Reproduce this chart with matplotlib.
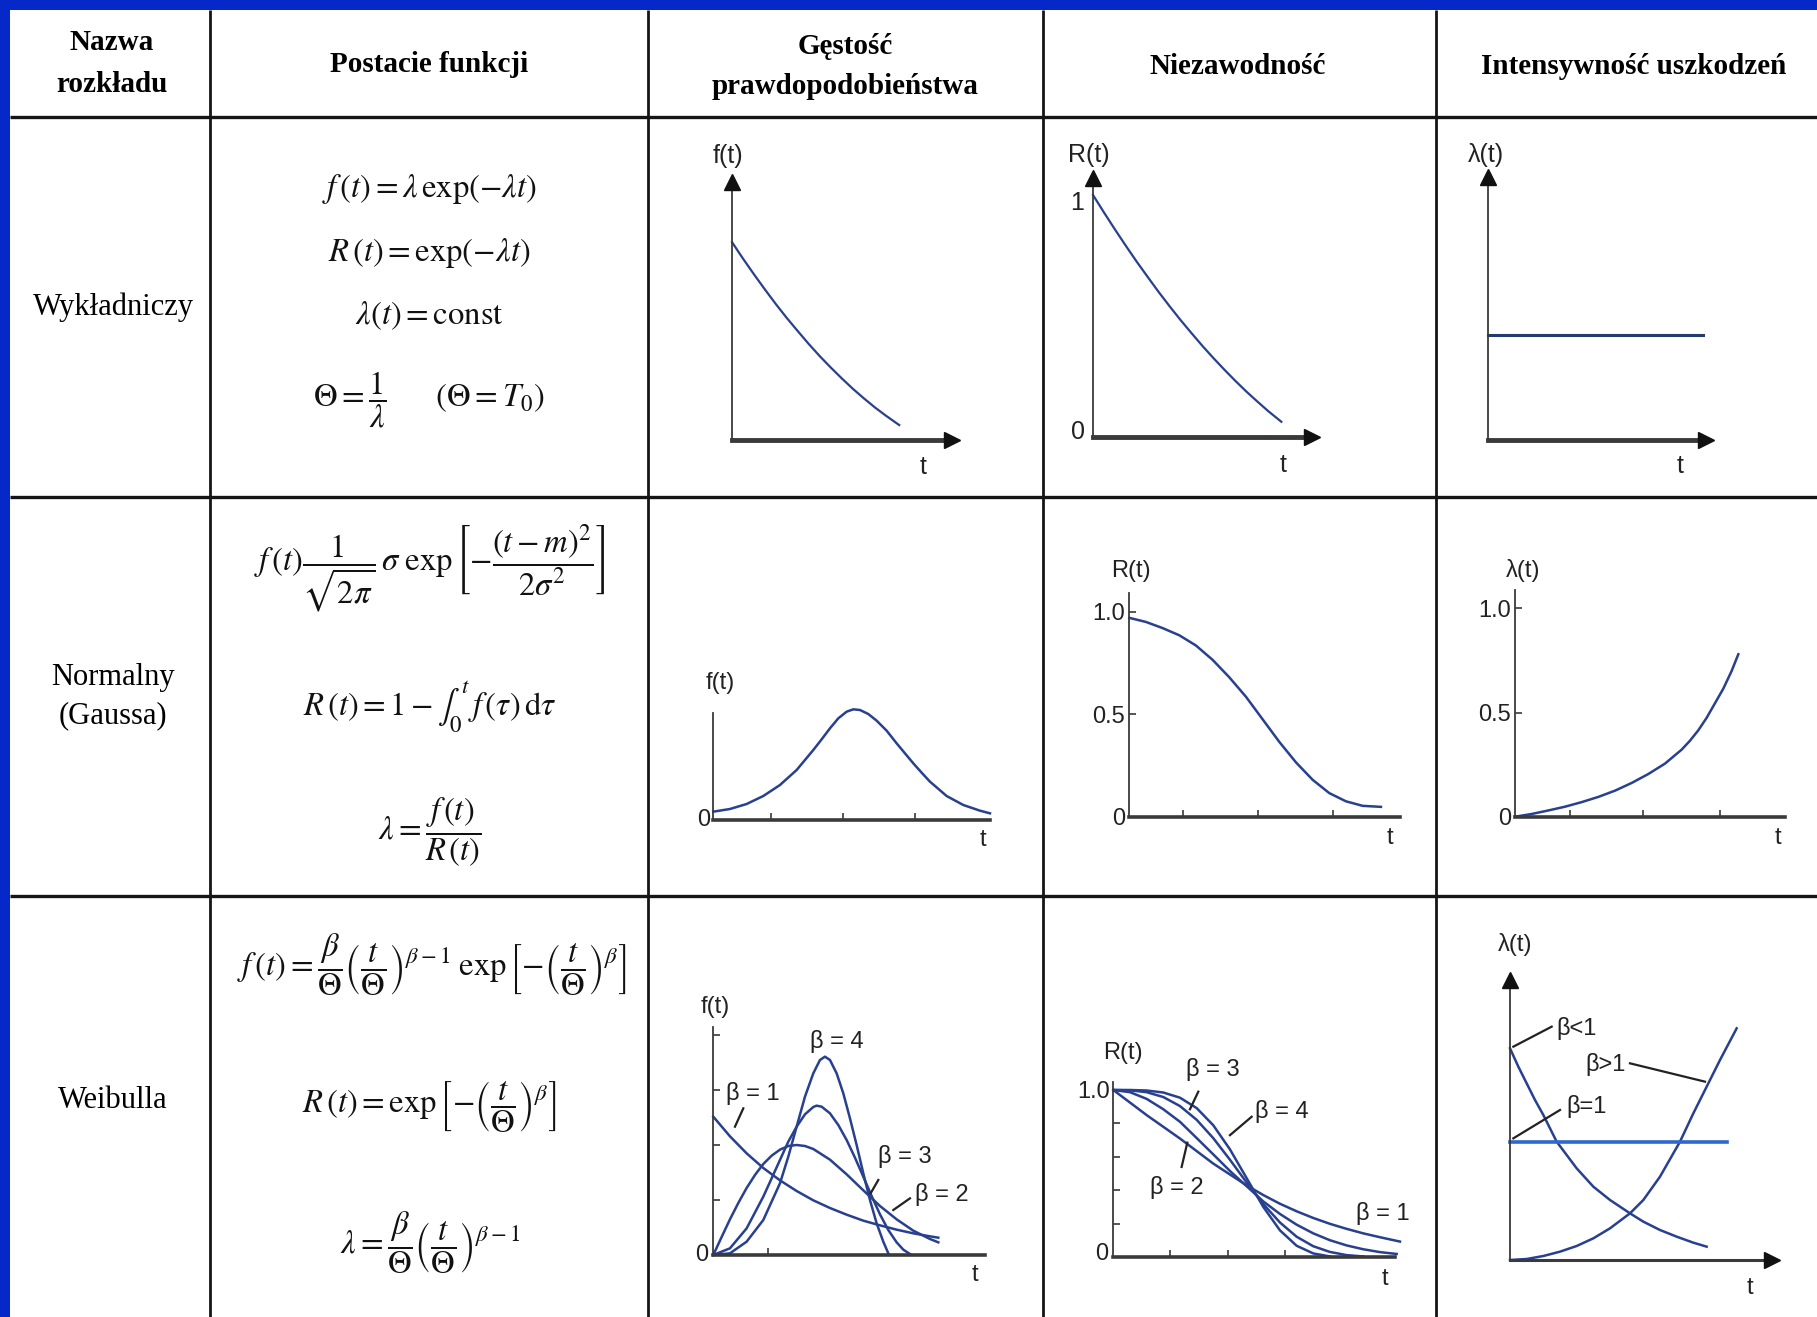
import matplotlib
matplotlib.use("Agg")
import matplotlib.pyplot as plt
from matplotlib.patches import Rectangle

plt.rcParams['mathtext.fontset'] = 'stix'

# ---------------- data ----------------
headers = ["Nazwa\nrozkładu", "Postacie funkcji", "Gęstość\nprawdopodobieństwa",
           "Niezawodność", "Intensywność uszkodzeń"]
row_names = ["Wykładniczy", "Normalny\n(Gaussa)", "Weibulla"]

# Row 1: exponential
exp_f_t = [0, 0.05, 0.1, 0.15, 0.2, 0.25, 0.3, 0.35, 0.4, 0.45, 0.5, 0.55, 0.6, 0.65, 0.7, 0.76]
exp_f_v = [0.767, 0.703, 0.642, 0.583, 0.526, 0.472, 0.421, 0.371, 0.324, 0.280, 0.238,
           0.198, 0.161, 0.126, 0.094, 0.058]
exp_R_t = [0, 0.05, 0.1, 0.15, 0.2, 0.25, 0.3, 0.35, 0.4, 0.45, 0.5, 0.55, 0.6, 0.65, 0.7,
           0.75, 0.8, 0.86]
exp_R_v = [1.0, 0.928, 0.858, 0.790, 0.724, 0.661, 0.599, 0.540, 0.483, 0.429, 0.376,
           0.326, 0.278, 0.232, 0.188, 0.147, 0.107, 0.063]
exp_lam_t = [0, 0.985]
exp_lam_v = [0.40, 0.40]

# Row 2: normal
norm_f_t = [0, 0.5, 1, 1.5, 2, 2.5, 2.75, 3, 3.25, 3.5, 3.75, 4.0, 4.2, 4.4, 4.65, 4.9,
            5.2, 5.5, 5.75, 6, 6.25, 6.5, 7, 7.5, 8, 8.3]
norm_f_v = [0.25, 0.33, 0.48, 0.72, 1.05, 1.5, 1.8, 2.1, 2.42, 2.75, 3.05, 3.25, 3.32,
            3.3, 3.18, 2.98, 2.68, 2.3, 2.0, 1.7, 1.42, 1.15, 0.72, 0.45, 0.28, 0.2]
norm_R_t = [0, 0.5, 1, 1.5, 2, 2.5, 3, 3.5, 4, 4.5, 5, 5.5, 6, 6.5, 7, 7.55]
norm_R_v = [0.97, 0.95, 0.92, 0.885, 0.835, 0.765, 0.68, 0.585, 0.475, 0.365, 0.265,
            0.18, 0.115, 0.075, 0.053, 0.048]
norm_lam_t = [0, 0.5, 1, 1.5, 2, 2.5, 3, 3.5, 4, 4.5, 5, 5.25, 5.5, 5.75, 6, 6.25, 6.5, 6.7]
norm_lam_v = [0, 0.013, 0.03, 0.048, 0.07, 0.095, 0.125, 0.162, 0.205, 0.255, 0.322,
              0.365, 0.415, 0.475, 0.545, 0.615, 0.70, 0.78]

# Row 3: Weibull density
wb_f_t1 = [0, 0.5, 1, 1.5, 2, 2.5, 3, 3.5, 4, 4.5, 5, 5.5, 6, 6.5, 6.75]
wb_f_b1 = [4.15, 3.56, 3.05, 2.61, 2.24, 1.92, 1.64, 1.41, 1.21, 1.03, 0.89, 0.76, 0.65, 0.56, 0.52]
wb_f_t2 = [0, 0.25, 0.5, 0.75, 1, 1.25, 1.5, 1.75, 2, 2.25, 2.5, 2.75, 3, 3.5, 4, 4.5,
           5, 5.5, 6, 6.5, 6.75]
wb_f_b2 = [0, 0.54, 1.07, 1.56, 2.01, 2.40, 2.73, 2.98, 3.16, 3.27, 3.30, 3.27, 3.18,
           2.86, 2.42, 1.94, 1.47, 1.07, 0.73, 0.48, 0.38]
wb_f_t3 = [0, 0.5, 1, 1.5, 2, 2.25, 2.5, 2.75, 3.0, 3.1, 3.25, 3.5, 3.75, 4.0, 4.25,
           4.5, 4.75, 5.0, 5.25, 5.5, 5.7, 5.9]
wb_f_b3 = [0, 0.2, 0.8, 1.75, 2.85, 3.4, 3.85, 4.22, 4.44, 4.48, 4.45, 4.25, 3.9, 3.45,
           2.92, 2.35, 1.77, 1.22, 0.75, 0.38, 0.16, 0.03]
wb_f_t4 = [0, 0.5, 1, 1.5, 2, 2.25, 2.5, 2.75, 3.0, 3.2, 3.35, 3.5, 3.7, 3.9, 4.1, 4.3,
           4.5, 4.7, 4.9, 5.1, 5.25]
wb_f_b4 = [0, 0.05, 0.4, 1.05, 2.15, 2.95, 3.85, 4.75, 5.45, 5.85, 5.95, 5.85, 5.45,
           4.85, 4.1, 3.3, 2.45, 1.65, 0.95, 0.4, 0.05]

# Row 3: Weibull reliability
wb_R_t1 = [0, 0.5, 1, 1.5, 2, 2.5, 3, 3.5, 4, 4.5, 5, 5.5, 6, 6.5, 7, 7.5, 8, 8.6]
wb_R_b1 = [1.0, 0.925, 0.85, 0.78, 0.71, 0.635, 0.56, 0.495, 0.43, 0.372, 0.32, 0.275,
           0.235, 0.2, 0.17, 0.143, 0.12, 0.094]
wb_R_t2 = [0, 0.5, 1, 1.5, 2, 2.5, 3, 3.5, 4, 4.5, 5, 5.5, 6, 6.5, 7, 7.5, 8, 8.5]
wb_R_b2 = [1.0, 0.987, 0.947, 0.885, 0.81, 0.713, 0.615, 0.516, 0.425, 0.334, 0.259,
           0.195, 0.143, 0.102, 0.071, 0.048, 0.031, 0.02]
wb_R_t3 = [0, 0.5, 1, 1.5, 2, 2.5, 3, 3.5, 4, 4.5, 5, 5.5, 6, 6.5, 7, 7.5]
wb_R_b3 = [1.0, 0.998, 0.987, 0.958, 0.904, 0.822, 0.712, 0.583, 0.447, 0.318, 0.208,
           0.123, 0.066, 0.032, 0.013, 0.005]
wb_R_t4 = [0, 0.5, 1, 1.5, 2, 2.5, 3, 3.5, 4, 4.5, 5, 5.5, 6, 6.5]
wb_R_b4 = [1.0, 1.0, 0.997, 0.985, 0.954, 0.892, 0.789, 0.645, 0.473, 0.301, 0.161,
           0.069, 0.023, 0.005]

# Row 3: Weibull hazard
wb_lam_t_lt = [0, 0.25, 0.5, 0.75, 1.0, 1.4, 2.0, 2.5, 3.0, 3.6, 4.0, 4.5, 5.0, 5.5, 5.9]
wb_lam_lt = [6.35, 5.8, 5.3, 4.8, 4.35, 3.55, 2.75, 2.2, 1.8, 1.4, 1.15, 0.9, 0.7, 0.52, 0.4]
wb_lam_t_gt = [0, 0.5, 1.0, 1.5, 2.0, 2.5, 3.0, 3.6, 4.0, 4.5, 5.1, 5.5, 5.9, 6.3, 6.8]
wb_lam_gt = [0, 0.03, 0.12, 0.25, 0.42, 0.65, 0.95, 1.4, 1.8, 2.5, 3.55, 4.4, 5.2, 6.0, 6.95]
wb_lam_t_eq = [0, 6.5]
wb_lam_eq = [3.55, 3.55]

# ---------------- figure ----------------
W, H = 1817, 1317
fig = plt.figure(figsize=(W / 100, H / 100), dpi=100)
bg = fig.add_axes([0, 0, 1, 1])
bg.set_xlim(0, W)
bg.set_ylim(H, 0)
bg.axis('off')

BLUE = '#0628c8'
LINE = '#151515'
CURVE = '#28408e'
AXC = '#3a3a3a'
SERIF = 'Liberation Serif'
SANS = 'Liberation Sans'

bg.add_patch(Rectangle((0, 0), W, 10, color=BLUE, lw=0))
bg.add_patch(Rectangle((0, 0), 10, H, color=BLUE, lw=0))

col_x = [210, 648, 1043, 1436]
row_y = [117, 497, 896]
for x in col_x:
    bg.plot([x, x], [10, H], color=LINE, lw=2.0, solid_capstyle='butt')
for y in row_y:
    bg.plot([10, W], [y, y], color=LINE, lw=2.4, solid_capstyle='butt')

# headers
hfs = 21
hk = dict(ha='center', va='center', fontsize=hfs, fontweight='bold', family=SERIF)
bg.text(112, 43, "Nazwa", **hk)
bg.text(112, 84, "rozkładu", **hk)
bg.text(429, 64, headers[1], **hk)
bg.text(845, 46, "Gęstość", **hk)
bg.text(845, 86, "prawdopodobieństwa", **hk)
bg.text(1238, 66, headers[3], **hk)
bg.text(1634, 66, headers[4], **hk)

# row names
rk = dict(ha='center', va='center', fontsize=22, family=SERIF)
bg.text(113, 307, row_names[0], **rk)
bg.text(113, 677, "Normalny", **rk)
bg.text(113, 716, "(Gaussa)", **rk)
bg.text(113, 1101, row_names[2], **rk)

# formulas
ffs = 23.5
formulas = [
    (429, 189, r'$f\,(t) = \lambda\,\exp(-\lambda t)$'),
    (429, 253, r'$R\,(t) = \exp(-\lambda t)$'),
    (429, 315, r'$\lambda(t) = \mathrm{const}$'),
    (429, 400, r'$\Theta = \dfrac{1}{\lambda}\qquad (\Theta = T_0)$'),
    (430, 568, r'$f\,(t)\dfrac{1}{\sqrt{2\pi}}\,\sigma\;\exp\left[-\dfrac{(t-m)^2}{2\sigma^2}\right]$'),
    (430, 707, r'$R\,(t) = 1 - \int_0^t\, f\,(\tau)\,\mathrm{d}\tau$'),
    (430, 832, r'$\lambda = \dfrac{f\,(t)}{R\,(t)}$'),
    (432, 965, r'$f\,(t) = \dfrac{\beta}{\Theta}\left(\dfrac{t}{\Theta}\right)^{\beta-1}\;\exp\left[-\left(\dfrac{t}{\Theta}\right)^{\beta}\right]$'),
    (430, 1107, r'$R\,(t) = \exp\left[-\left(\dfrac{t}{\Theta}\right)^{\beta}\right]$'),
    (430, 1243, r'$\lambda = \dfrac{\beta}{\Theta}\left(\dfrac{t}{\Theta}\right)^{\beta-1}$'),
]
for x, y, s in formulas:
    bg.text(x, y, s, ha='center', va='center', fontsize=ffs, color='#111111')


def panel(ox, oy, sx, sy, xlim, ylim):
    l = ox + xlim[0] * sx
    r = ox + xlim[1] * sx
    b = oy - ylim[0] * sy
    t = oy - ylim[1] * sy
    ax = fig.add_axes([l / W, 1 - b / H, (r - l) / W, (b - t) / H])
    ax.set_xlim(xlim)
    ax.set_ylim(ylim)
    ax.patch.set_visible(False)
    ax.spines['top'].set_visible(False)
    ax.spines['right'].set_visible(False)
    ax.spines['left'].set_position(('data', 0))
    ax.spines['bottom'].set_position(('data', 0))
    ax.set_xticks([])
    ax.set_yticks([])
    return ax


def axes_lines(ax, xend, ytop, xlw=3.0, ylw=1.3, xarrow=False, yarrow=False):
    ax.spines['bottom'].set_bounds(0, xend)
    ax.spines['left'].set_bounds(0, ytop)
    ax.spines['bottom'].set_linewidth(xlw)
    ax.spines['left'].set_linewidth(ylw)
    ax.spines['bottom'].set_color(AXC)
    ax.spines['left'].set_color(AXC)
    if xarrow:
        ax.plot([xend], [0], marker='>', ms=11, color='#111111', clip_on=False, zorder=5)
    if yarrow:
        ax.plot([0], [ytop], marker='^', ms=11, color='#111111', clip_on=False, zorder=5)


def lab(ax, x, y, s, fs=17, ha='center', va='center'):
    ax.text(x, y, s, fontsize=fs, ha=ha, va=va, family=SANS, color='#222222', clip_on=False)


def leader(ax, x0, y0, x1, y1):
    ax.plot([x0, x1], [y0, y1], color='#222222', lw=1.6, clip_on=False)


def tick_style(ax):
    ax.tick_params(direction='in', length=5, width=1.2, color=AXC, labelsize=17,
                   labelcolor='#222222', pad=3)
    for t in ax.get_yticklabels() + ax.get_xticklabels():
        t.set_family(SANS)


# ---- Row 1: exponential ----
ax = panel(732, 440, 220, 258, (-0.1, 1.1), (-0.1, 1.2))
axes_lines(ax, 1.0, 1.0, xlw=3.5, xarrow=True, yarrow=True)
ax.plot(exp_f_t, exp_f_v, color=CURVE, lw=1.6, clip_on=False)
lab(ax, -0.02, 1.10, "f(t)", fs=18)
lab(ax, 0.87, -0.105, "t", fs=18)

ax = panel(1093, 437, 219, 242, (-0.1, 1.1), (-0.1, 1.25))
axes_lines(ax, 1.0, 1.07, xlw=3.5, xarrow=True, yarrow=True)
ax.plot(exp_R_t, exp_R_v, color=CURVE, lw=1.6, clip_on=False)
lab(ax, -0.02, 1.165, "R(t)", fs=18)
lab(ax, -0.075, 0.965, "1", fs=18)
lab(ax, -0.07, 0.02, "0", fs=18)
lab(ax, 0.87, -0.115, "t", fs=18)

ax = panel(1488, 440, 218, 263, (-0.1, 1.1), (-0.1, 1.2))
axes_lines(ax, 1.0, 1.0, xlw=3.5, xarrow=True, yarrow=True)
ax.plot(exp_lam_t, exp_lam_v, color='#253a70', lw=2.2, clip_on=False)
lab(ax, -0.01, 1.085, "λ(t)", fs=18)
lab(ax, 0.88, -0.10, "t", fs=18)

# ---- Row 2: normal ----
u = 100 / 3
ax = panel(713.3, 820, u, u, (-0.5, 8.6), (-0.5, 4.5))
axes_lines(ax, 8.3, 3.2, xlw=2.6)
ax.set_xticks([1.72, 3.9, 6.05])
ax.set_xticklabels([])
tick_style(ax)
ax.plot(norm_f_t, norm_f_v, color=CURVE, lw=1.8, clip_on=False)
lab(ax, 0.2, 4.1, "f(t)")
lab(ax, -0.3, 0.0, "0")
lab(ax, 8.1, -0.6, "t")

ax = panel(1129.3, 816.7, u, 205, (-0.5, 8.4), (-0.1, 1.3))
axes_lines(ax, 8.12, 1.09, xlw=2.6)
ax.set_xticks([1.62, 3.87, 6.12])
ax.set_xticklabels([])
ax.set_yticks([0, 0.5, 1.0])
ax.set_yticklabels(["0", "0.5", "1.0"])
tick_style(ax)
ax.plot(norm_R_t, norm_R_v, color=CURVE, lw=1.8, clip_on=False)
lab(ax, 0.05, 1.2, "R(t)")
lab(ax, 7.82, -0.105, "t")

ax = panel(1515, 816.7, u, 208.3, (-0.5, 8.4), (-0.1, 1.3))
axes_lines(ax, 8.1, 1.09, xlw=2.6)
ax.set_xticks([1.65, 3.85, 6.15])
ax.set_xticklabels([])
ax.set_yticks([0, 0.5, 1.0])
ax.set_yticklabels(["0", "0.5", "1.0"])
tick_style(ax)
ax.plot(norm_lam_t, norm_lam_v, color=CURVE, lw=1.8, clip_on=False)
lab(ax, 0.25, 1.18, "λ(t)")
lab(ax, 7.9, -0.1, "t")

# ---- Row 3: Weibull ----
ax = panel(713.3, 1255, u, u, (-0.5, 8.5), (-0.5, 8.0))
axes_lines(ax, 8.15, 6.85, xlw=2.6)
ax.set_xticks([1.65])
ax.set_xticklabels([])
ax.set_yticks([1.65, 3.3, 4.95, 6.6])
ax.set_yticklabels([])
tick_style(ax)
for tt, vv in [(wb_f_t1, wb_f_b1), (wb_f_t2, wb_f_b2), (wb_f_t3, wb_f_b3), (wb_f_t4, wb_f_b4)]:
    ax.plot(tt, vv, color=CURVE, lw=1.8, clip_on=False)
lab(ax, 0.05, 7.45, "f(t)")
lab(ax, -0.35, 0.0, "0")
lab(ax, 7.85, -0.6, "t")
lab(ax, 3.7, 6.4, "β = 4")
lab(ax, 1.2, 4.85, "β = 1")
leader(ax, 0.9, 4.4, 0.65, 3.85)
lab(ax, 5.75, 2.95, "β = 3")
leader(ax, 4.95, 2.25, 4.72, 1.85)
lab(ax, 6.85, 1.8, "β = 2")
leader(ax, 5.9, 1.7, 5.4, 1.35)

ax = panel(1113.3, 1257.3, u, 167.3, (-0.5, 9.0), (-0.1, 1.35))
axes_lines(ax, 8.45, 1.05, xlw=2.6)
ax.set_xticks([1.7, 3.45, 5.15])
ax.set_xticklabels([])
ax.set_yticks([0.2, 0.4, 0.6, 0.8, 1.0])
ax.set_yticklabels([])
tick_style(ax)
for tt, vv in [(wb_R_t1, wb_R_b1), (wb_R_t2, wb_R_b2), (wb_R_t3, wb_R_b3), (wb_R_t4, wb_R_b4)]:
    ax.plot(tt, vv, color=CURVE, lw=1.8, clip_on=False)
lab(ax, 0.3, 1.22, "R(t)")
lab(ax, -0.1, 0.99, "1.0", ha='right')
lab(ax, -0.35, 0.02, "0")
lab(ax, 8.15, -0.13, "t")
lab(ax, 3.0, 1.12, "β = 3")
leader(ax, 2.55, 0.99, 2.3, 0.885)
lab(ax, 5.05, 0.87, "β = 4")
leader(ax, 4.15, 0.84, 3.5, 0.73)
lab(ax, 1.9, 0.42, "β = 2")
leader(ax, 2.05, 0.54, 2.22, 0.685)
lab(ax, 8.1, 0.26, "β = 1")

ax = panel(1510, 1260, u, u, (-0.5, 8.3), (-1.2, 10.0))
axes_lines(ax, 7.85, 8.4, xlw=2.2, ylw=1.3, xarrow=True, yarrow=True)
ax.plot(wb_lam_t_lt, wb_lam_lt, color=CURVE, lw=1.8, clip_on=False)
ax.plot(wb_lam_t_gt, wb_lam_gt, color=CURVE, lw=1.8, clip_on=False)
ax.plot(wb_lam_t_eq, wb_lam_eq, color='#2d68d0', lw=2.6, clip_on=False)
lab(ax, 0.15, 9.45, "λ(t)")
lab(ax, 7.2, -0.85, "t")
lab(ax, 1.4, 6.95, "β<1", ha='left')
leader(ax, 0.1, 6.4, 1.25, 7.0)
lab(ax, 2.25, 5.85, "β>1", ha='left')
leader(ax, 3.6, 5.9, 5.85, 5.35)
lab(ax, 1.7, 4.6, "β=1", ha='left')
leader(ax, 0.1, 3.65, 1.5, 4.5)

fig.savefig("out.png", dpi=100, facecolor='white')
